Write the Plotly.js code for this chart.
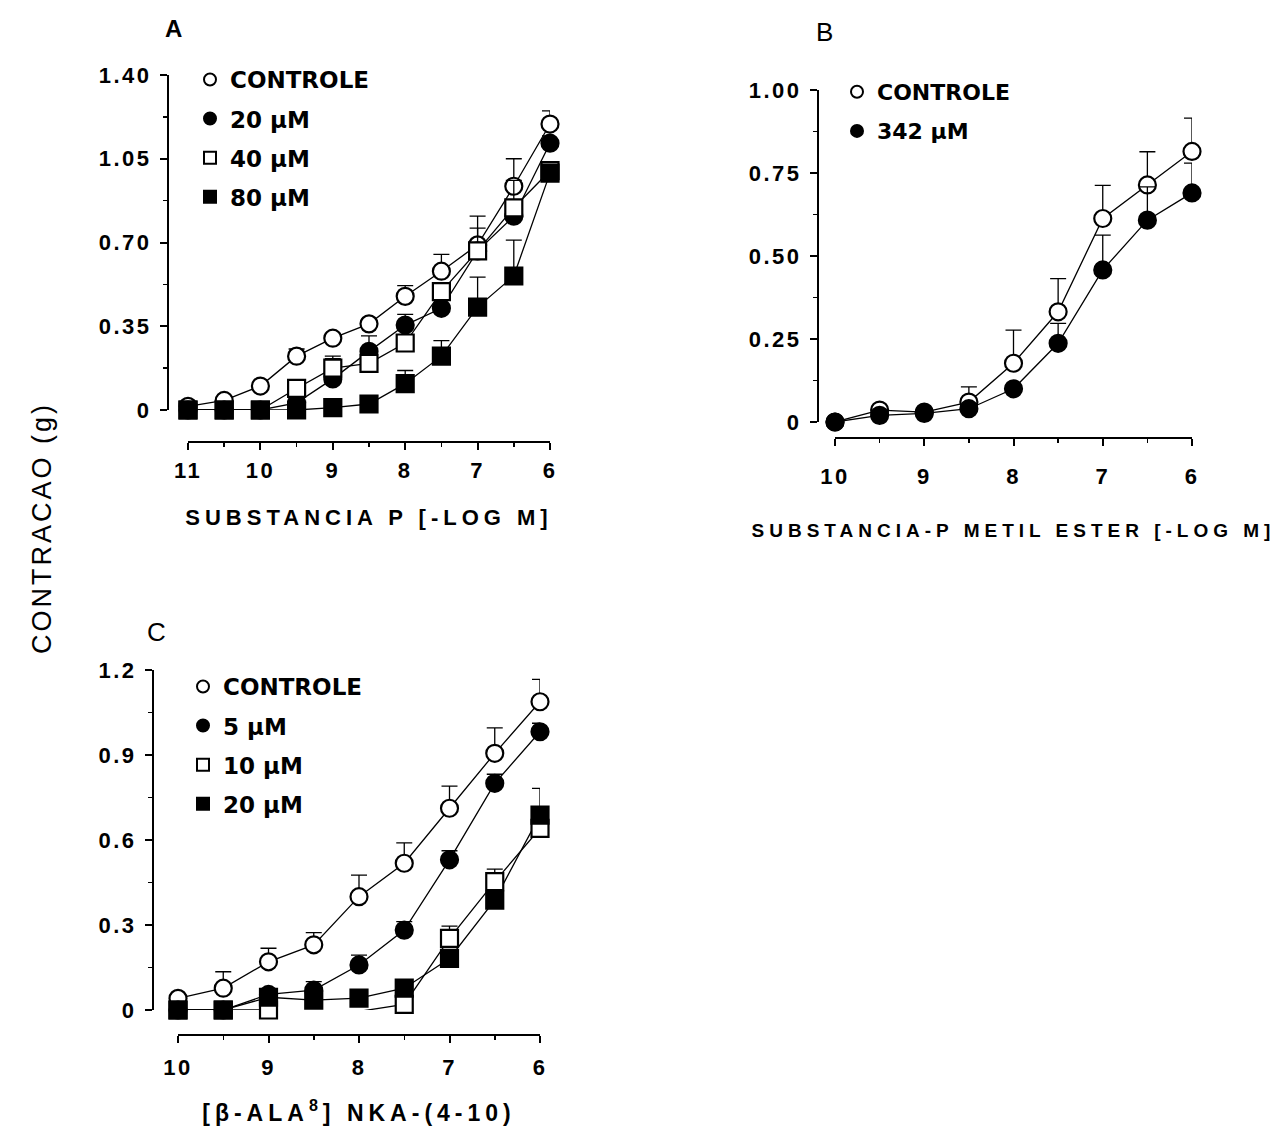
<!DOCTYPE html>
<html>
<head>
<meta charset="utf-8">
<script src="https://cdn.plot.ly/plotly-3.0.1.min.js"></script>
<style>
  body { margin: 0; background: #fff; }
  #chart { width: 1274px; height: 1139px; }
  .xtick text, .x2tick text, .x3tick text,
  .ytick text, .y2tick text, .y3tick text { letter-spacing: 2.5px; }
  .xtitle, .x2title, .x3title { letter-spacing: 5px; }
  .annotation-text { letter-spacing: 3px; }
</style>
</head>
<body>
<div id="chart"></div>
<script>
// ---- Panel A: Substancia P (-log M) ----
const dosesA = [11, 10.5, 10, 9.5, 9, 8.5, 8, 7.5, 7, 6.5, 6];
const controleA = [0.015, 0.04, 0.10, 0.225, 0.30, 0.36, 0.475, 0.58, 0.69, 0.935, 1.195];
const controleA_sem = [0, 0, 0.01, 0.03, 0.02, 0.02, 0.045, 0.07, 0.12, 0.115, 0.055];
const uM20A = [0, 0, 0, 0.03, 0.13, 0.245, 0.355, 0.425, 0.665, 0.81, 1.115];
const uM20A_sem = [0, 0, 0, 0, 0.085, 0.065, 0.045, 0.02, 0.03, 0.03, 0.03];
const uM40A = [0, 0, 0, 0.09, 0.175, 0.195, 0.28, 0.495, 0.665, 0.845, 1.0];
const uM40A_sem = [0, 0, 0, 0.035, 0.05, 0.02, 0.03, 0.035, 0.095, 0.115, 0.03];
const uM80A = [0, 0, 0, 0, 0.01, 0.025, 0.11, 0.225, 0.43, 0.56, 0.99];
const uM80A_sem = [0, 0, 0, 0, 0, 0, 0.055, 0.065, 0.125, 0.15, 0.02];
const yTicksA = [0, 0.35, 0.70, 1.05, 1.40];
const yLabelsA = ['0', '0.35', '0.70', '1.05', '1.40'];

// ---- Panel B: Substancia-P metil ester (-log M) ----
const dosesB = [10, 9.5, 9, 8.5, 8, 7.5, 7, 6.5, 6];
const controleB = [0, 0.036, 0.03, 0.06, 0.177, 0.332, 0.613, 0.714, 0.815];
const controleB_sem = [0, 0.01, 0, 0.046, 0.10, 0.10, 0.10, 0.10, 0.10];
const uM342B = [0, 0.02, 0.026, 0.04, 0.10, 0.237, 0.458, 0.608, 0.69];
const uM342B_sem = [0, 0, 0, 0, 0, 0.06, 0.105, 0.10, 0.09];
const yTicksB = [0, 0.25, 0.50, 0.75, 1.00];
const yLabelsB = ['0', '0.25', '0.50', '0.75', '1.00'];

// ---- Panel C: [beta-Ala8] NKA-(4-10) (-log M) ----
const dosesC = [10, 9.5, 9, 8.5, 8, 7.5, 7, 6.5, 6];
const controleC = [0.041, 0.077, 0.17, 0.23, 0.40, 0.518, 0.712, 0.906, 1.088];
const controleC_sem = [0, 0.058, 0.048, 0.043, 0.076, 0.072, 0.078, 0.09, 0.079];
const uM5C = [0, 0, 0.055, 0.07, 0.159, 0.282, 0.53, 0.80, 0.982];
const uM5C_sem = [0, 0, 0, 0.03, 0.035, 0.03, 0.032, 0.032, 0.03];
const uM10C = [0, 0, 0, -0.015, -0.005, 0.02, 0.253, 0.453, 0.641];
const uM10C_sem = [0, 0, 0, 0, 0, 0, 0.043, 0.044, 0.02];
const uM20C = [0, 0, 0.045, 0.035, 0.042, 0.077, 0.182, 0.388, 0.688];
const uM20C_sem = [0, 0, 0, 0, 0, 0.03, 0, 0.03, 0.094];
const yTicksC = [0, 0.3, 0.6, 0.9, 1.2];
const yLabelsC = ['0', '0.3', '0.6', '0.9', '1.2'];

const W = 1274, H = 1139;
const px = p => p / W;          // horizontal pixel -> paper fraction
const py = p => 1 - p / H;      // vertical pixel -> paper fraction

const FONT = 'Liberation Sans, Arial, Helvetica, sans-serif';
const LEGEND_FONT = 'DejaVu Sans, Verdana, sans-serif';
const tickFont = { family: FONT, size: 22, color: '#000', weight: 'bold' };

function lineTrace(x, y, xa, ya) {
  return {
    x: x, y: y, xaxis: xa, yaxis: ya, type: 'scatter', mode: 'lines',
    line: { color: '#000', width: 1.3 }, showlegend: false,
    hoverinfo: 'skip', cliponaxis: false
  };
}

function markerTrace(x, y, sem, xa, ya, name, symbol, filled, legend) {
  return {
    x: x, y: y, xaxis: xa, yaxis: ya, type: 'scatter', mode: 'markers',
    name: name, legend: legend, legendgroup: legend + name,
    marker: {
      symbol: symbol, size: 17, color: filled ? '#000' : '#fff',
      line: { color: '#000', width: 2.2 }
    },
    error_y: {
      type: 'data', symmetric: false, array: sem,
      arrayminus: sem.map(() => 0),
      color: '#000', thickness: 1.3, width: 8
    },
    cliponaxis: false
  };
}

const seriesA = [
  [controleA, controleA_sem, 'CONTROLE', 'circle', false],
  [uM20A, uM20A_sem, '20 µM', 'circle', true],
  [uM40A, uM40A_sem, '40 µM', 'square', false],
  [uM80A, uM80A_sem, '80 µM', 'square', true]
];
const seriesB = [
  [controleB, controleB_sem, 'CONTROLE', 'circle', false],
  [uM342B, uM342B_sem, '342 µM', 'circle', true]
];
const seriesC = [
  [controleC, controleC_sem, 'CONTROLE', 'circle', false],
  [uM5C, uM5C_sem, '5 µM', 'circle', true],
  [uM10C, uM10C_sem, '10 µM', 'square', false],
  [uM20C, uM20C_sem, '20 µM', 'square', true]
];

const traces = [];
function addPanel(doses, series, xa, ya, legend) {
  series.forEach(s => traces.push(lineTrace(doses, s[0], xa, ya)));
  series.forEach(s => traces.push(markerTrace(doses, s[0], s[1], xa, ya, s[2], s[3], s[4], legend)));
}
addPanel(dosesA, seriesA, 'x', 'y', 'legend');
addPanel(dosesB, seriesB, 'x2', 'y2', 'legend2');
addPanel(dosesC, seriesC, 'x3', 'y3', 'legend3');

function xAxis(domainPx, range, linePx, labelGap, title, titleSize, standoff) {
  return {
    domain: [px(domainPx[0]), px(domainPx[1])], range: range,
    anchor: 'free', position: py(linePx),
    showline: true, linecolor: '#000', linewidth: 2,
    ticks: 'outside', ticklen: 7, tickwidth: 2, tickcolor: '#000',
    dtick: 1, tick0: 0, tickfont: tickFont, ticklabelstandoff: labelGap,
    minor: { dtick: 0.5, tick0: 0, ticks: 'outside', ticklen: 4, tickwidth: 1.5, tickcolor: '#000' },
    showgrid: false, zeroline: false, fixedrange: true,
    title: { text: title, standoff: standoff, font: { family: FONT, size: titleSize, color: '#000', weight: 'bold' } }
  };
}

function yAxis(domainPx, range, linePx, tickvals, ticktext, minorStep) {
  return {
    domain: [py(domainPx[0]), py(domainPx[1])], range: range,
    anchor: 'free', position: px(linePx),
    showline: true, linecolor: '#000', linewidth: 2,
    ticks: 'outside', ticklen: 7, tickwidth: 2, tickcolor: '#000',
    tickmode: 'array', tickvals: tickvals, ticktext: ticktext,
    tickfont: tickFont, ticklabelstandoff: 4,
    minor: { dtick: minorStep, tick0: 0, ticks: 'outside', ticklen: 4, tickwidth: 1.5, tickcolor: '#000' },
    showgrid: false, zeroline: false, fixedrange: true
  };
}

function legendBox(leftPx, topPx, size) {
  return {
    x: px(leftPx), y: py(topPx), xanchor: 'left', yanchor: 'top',
    bgcolor: 'rgba(0,0,0,0)', borderwidth: 0,
    font: { family: LEGEND_FONT, size: size, color: '#000', weight: 'bold' },
    itemsizing: 'constant', tracegroupgap: 7.5 - (size - 22) * 1.3, traceorder: 'grouped'
  };
}

const layout = {
  width: W, height: H,
  margin: { l: 0, r: 0, t: 0, b: 0 },
  paper_bgcolor: '#fff', plot_bgcolor: 'rgba(0,0,0,0)',
  showlegend: true,
  xaxis: xAxis([188, 550], [11, 6], 442, 2, 'SUBSTANCIA P [-LOG M]', 22, 26),
  yaxis: yAxis([410, 75], [0, 1.40], 168, yTicksA, yLabelsA, 0.175),
  xaxis2: xAxis([835, 1192], [10, 6], 438, 12, 'SUBSTANCIA-P METIL ESTER [-LOG M]', 19, 34),
  yaxis2: yAxis([422, 90], [0, 1.00], 818, yTicksB, yLabelsB, 0.125),
  xaxis3: xAxis([178, 540], [10, 6], 1035, 6, '[β-ALA<sup>8</sup>] NKA-(4-10)', 23, 24),
  yaxis3: yAxis([1010, 670], [0, 1.2], 153, yTicksC, yLabelsC, 0.15),
  legend: legendBox(190, 58, 23),
  legend2: legendBox(837, 71, 22),
  legend3: legendBox(183, 665, 23),
  annotations: [
    { text: 'A', x: px(175), y: py(28), xref: 'paper', yref: 'paper', showarrow: false,
      xanchor: 'center', yanchor: 'middle', font: { family: FONT, size: 24, color: '#000', weight: 'bold' } },
    { text: 'B', x: px(826), y: py(32), xref: 'paper', yref: 'paper', showarrow: false,
      xanchor: 'center', yanchor: 'middle', font: { family: FONT, size: 26, color: '#000' } },
    { text: 'C', x: px(158), y: py(632), xref: 'paper', yref: 'paper', showarrow: false,
      xanchor: 'center', yanchor: 'middle', font: { family: FONT, size: 26, color: '#000' } },
    { text: 'CONTRACAO (g)', x: px(42), y: py(528), xref: 'paper', yref: 'paper', showarrow: false,
      textangle: -90, xanchor: 'center', yanchor: 'middle',
      font: { family: FONT, size: 27, color: '#000' } }
  ]
};

Plotly.newPlot('chart', traces, layout, { staticPlot: true, displayModeBar: false });
</script>
</body>
</html>
